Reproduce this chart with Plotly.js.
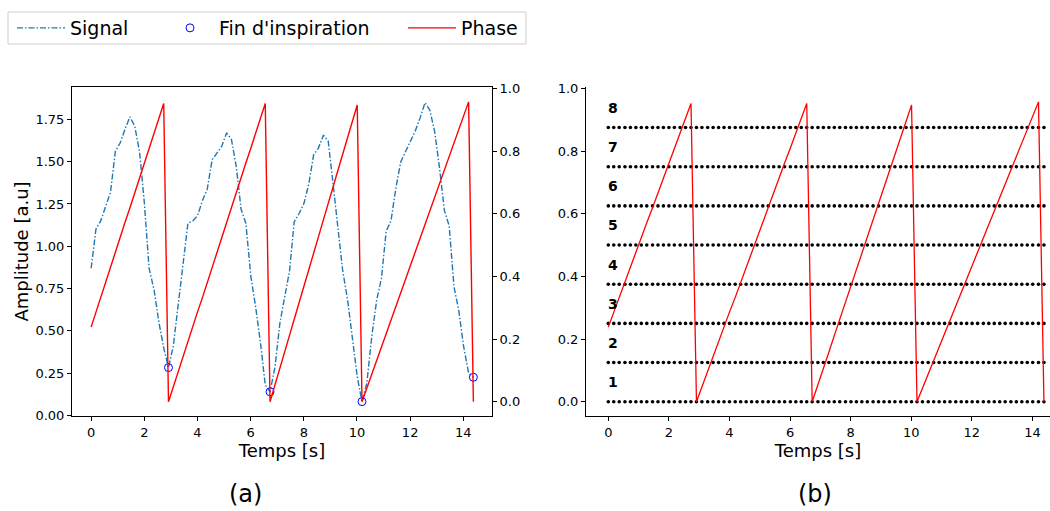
<!DOCTYPE html>
<html>
<head>
<meta charset="utf-8">
<script src="https://cdn.plot.ly/plotly-3.0.1.min.js"></script>
<style>
html,body{margin:0;padding:0;background:#fff;}
#chart{width:1050px;height:511px;}
</style>
</head>
<body>
<div id="chart"></div>
<script>
// ---- data ----
const temps = [0, 0.18, 0.36, 0.55, 0.73, 0.91, 1.09, 1.27, 1.46, 1.64,
  1.82, 2.00, 2.18, 2.37, 2.55, 2.73, 2.91, 3.09, 3.28, 3.46,
  3.64, 3.82, 4.00, 4.19, 4.37, 4.55, 4.73, 4.91, 5.10, 5.28,
  5.46, 5.64, 5.82, 6.01, 6.19, 6.37, 6.55, 6.73, 6.92, 7.10,
  7.28, 7.46, 7.64, 7.83, 8.01, 8.19, 8.37, 8.55, 8.74, 8.92,
  9.10, 9.28, 9.46, 9.65, 9.83, 10.01, 10.19, 10.37, 10.56, 10.74,
  10.92, 11.10, 11.28, 11.47, 11.65, 11.83, 12.01, 12.19, 12.38, 12.56,
  12.74, 12.92, 13.10, 13.29, 13.47, 13.65, 13.83, 14.01, 14.20, 14.38];

const signal = [0.87, 1.10, 1.15, 1.24, 1.32, 1.56, 1.61, 1.69, 1.765, 1.71,
  1.56, 1.26, 0.87, 0.74, 0.55, 0.40, 0.283, 0.41, 0.66, 0.90,
  1.135, 1.15, 1.18, 1.27, 1.34, 1.51, 1.55, 1.59, 1.67, 1.63,
  1.47, 1.22, 1.135, 0.82, 0.64, 0.43, 0.18, 0.14, 0.29, 0.545,
  0.70, 0.85, 1.145, 1.195, 1.255, 1.37, 1.54, 1.58, 1.657, 1.62,
  1.37, 1.12, 0.86, 0.68, 0.45, 0.23, 0.082, 0.19, 0.47, 0.68,
  0.81, 1.09, 1.15, 1.35, 1.50, 1.56, 1.61, 1.68, 1.76, 1.848,
  1.805, 1.68, 1.47, 1.21, 1.12, 0.76, 0.62, 0.41, 0.25, 0.226];

const phase = [0.238, 0.286, 0.333, 0.381, 0.429, 0.476, 0.524, 0.571, 0.619, 0.667,
  0.714, 0.762, 0.810, 0.857, 0.905, 0.952,
  0, 0.048, 0.095, 0.143, 0.190, 0.238, 0.286, 0.333, 0.381, 0.429,
  0.476, 0.524, 0.571, 0.619, 0.667, 0.714, 0.762, 0.810, 0.857, 0.905, 0.952,
  0, 0.053, 0.105, 0.158, 0.211, 0.263, 0.316, 0.368, 0.421, 0.474,
  0.526, 0.579, 0.632, 0.684, 0.737, 0.789, 0.842, 0.895, 0.947,
  0, 0.043, 0.087, 0.130, 0.174, 0.217, 0.261, 0.304, 0.348, 0.391,
  0.435, 0.478, 0.522, 0.565, 0.609, 0.652, 0.696, 0.739, 0.783, 0.826,
  0.870, 0.913, 0.957, 0];

const finTemps = [2.91, 6.73, 10.19, 14.38];
const finAmp = [0.283, 0.14, 0.082, 0.226];

const levels = [0, 0.125, 0.25, 0.375, 0.5, 0.625, 0.75, 0.875];
const levelLabels = ['1', '2', '3', '4', '5', '6', '7', '8'];
const levelLabelY = [0.0625, 0.1875, 0.3125, 0.4375, 0.5625, 0.6875, 0.8125, 0.9375];

const names = ['Signal', "Fin d'inspiration", 'Phase'];
const xTitle = 'Temps [s]';
const yTitle = 'Amplitude [a.u]';
const panelLabels = ['(a)', '(b)'];

// ---- helpers ----
const W = 1050, H = 511;
const px = v => v / W;
const py = v => 1 - v / H;
const FONT = 'DejaVu Sans, sans-serif';

const traces = [];
traces.push({
  x: temps, y: signal, xaxis: 'x', yaxis: 'y', type: 'scatter', mode: 'lines',
  name: names[0], legend: 'legend',
  line: {color: '#1f77b4', width: 1.4, dash: '6px,2px,1.5px,2px'}
});
traces.push({
  x: finTemps, y: finAmp, xaxis: 'x', yaxis: 'y', type: 'scatter', mode: 'markers',
  name: names[1], legend: 'legend2',
  marker: {symbol: 'circle-open', size: 8, color: '#0000ff', line: {width: 1, color: '#0000ff'}}
});
traces.push({
  x: temps, y: phase, xaxis: 'x', yaxis: 'y2', type: 'scatter', mode: 'lines',
  name: names[2], legend: 'legend3',
  line: {color: '#ff0000', width: 1.4}
});
// right panel
levels.forEach(lv => {
  traces.push({
    x: temps, y: temps.map(() => lv), xaxis: 'x2', yaxis: 'y3', type: 'scatter', mode: 'markers',
    showlegend: false, hoverinfo: 'skip',
    marker: {size: 3.6, color: '#000000'}
  });
});
traces.push({
  x: temps, y: phase, xaxis: 'x2', yaxis: 'y3', type: 'scatter', mode: 'lines',
  showlegend: false, line: {color: '#ff0000', width: 1.3}
});

const dom1 = [px(72), px(492)];
const dom2 = [px(586), 1];
const ydom = [1 - 416 / H, 1 - 87 / H];

const tickCommon = {
  ticks: 'outside', ticklen: 4, tickwidth: 1, tickcolor: '#000',
  showline: true, linecolor: '#000', linewidth: 1,
  showgrid: false, zeroline: false,
  tickfont: {family: FONT, size: 13, color: '#000'}
};

const annotations = levelLabels.map((t, i) => ({
  x: 0, y: levelLabelY[i], xref: 'x2', yref: 'y3', text: '<b>' + t + '</b>',
  showarrow: false, xanchor: 'left', yanchor: 'middle', xshift: -2,
  font: {family: FONT, size: 14, color: '#000'}
}));
annotations.push({x: px(245), y: py(494), xref: 'paper', yref: 'paper', text: panelLabels[0],
  showarrow: false, xanchor: 'center', yanchor: 'middle', font: {family: FONT, size: 24, color: '#000'}});
annotations.push({x: px(815), y: py(494), xref: 'paper', yref: 'paper', text: panelLabels[1],
  showarrow: false, xanchor: 'center', yanchor: 'middle', font: {family: FONT, size: 24, color: '#000'}});

const legFont = {family: FONT, size: 19, color: '#000'};
const legBase = {orientation: 'h', yanchor: 'middle', y: py(28), xanchor: 'left',
  bgcolor: 'rgba(0,0,0,0)', borderwidth: 0, font: legFont, itemwidth: 48};

const layout = {
  width: W, height: H,
  margin: {l: 0, r: 0, t: 0, b: 0},
  paper_bgcolor: '#fff', plot_bgcolor: '#fff',
  showlegend: true,
  legend: Object.assign({}, legBase, {x: px(12)}),
  legend2: Object.assign({}, legBase, {x: px(161)}),
  legend3: Object.assign({}, legBase, {x: px(403)}),
  xaxis: Object.assign({}, tickCommon, {
    domain: dom1, range: [-0.72, 15.08], anchor: 'y', mirror: true,
    tickvals: [0, 2, 4, 6, 8, 10, 12, 14],
    title: {text: xTitle, font: {family: FONT, size: 18, color: '#000'}, standoff: 2}
  }),
  yaxis: Object.assign({}, tickCommon, {
    domain: ydom, range: [-0.003, 1.941], anchor: 'x',
    tickvals: [0, 0.25, 0.5, 0.75, 1.0, 1.25, 1.5, 1.75], tickformat: '.2f',
    title: {text: yTitle, font: {family: FONT, size: 18, color: '#000'}, standoff: 2}
  }),
  yaxis2: Object.assign({}, tickCommon, {
    domain: ydom, range: [-0.0456, 1.0045], anchor: 'x', overlaying: 'y', side: 'right',
    tickvals: [0, 0.2, 0.4, 0.6, 0.8, 1.0], tickformat: '.1f'
  }),
  xaxis2: Object.assign({}, tickCommon, {
    domain: dom2, range: [-0.736, 14.58], anchor: 'y3',
    tickvals: [0, 2, 4, 6, 8, 10, 12, 14],
    title: {text: xTitle, font: {family: FONT, size: 18, color: '#000'}, standoff: 2}
  }),
  yaxis3: Object.assign({}, tickCommon, {
    domain: ydom, range: [-0.0456, 1.0045], anchor: 'x2',
    tickvals: [0, 0.2, 0.4, 0.6, 0.8, 1.0], tickformat: '.1f'
  }),
  annotations: annotations,
  shapes: [{type: 'rect', xref: 'paper', yref: 'paper', x0: px(8), x1: px(526), y0: py(44), y1: py(12),
    line: {color: '#cccccc', width: 1}, fillcolor: 'rgba(255,255,255,0.8)', layer: 'below'}]
};

Plotly.newPlot('chart', traces, layout, {displayModeBar: false, staticPlot: true});
</script>
</body>
</html>
